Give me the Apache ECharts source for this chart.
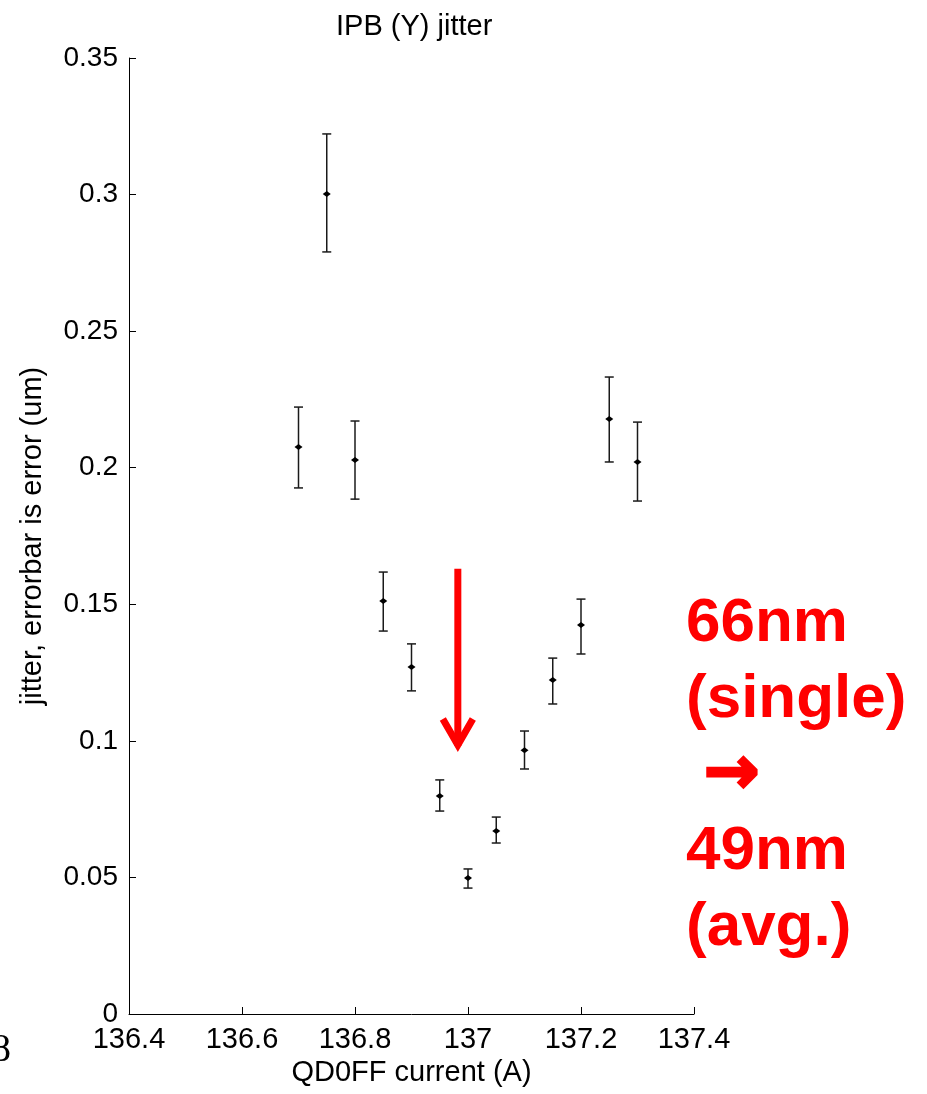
<!DOCTYPE html>
<html>
<head>
<meta charset="utf-8">
<script src="https://cdn.jsdelivr.net/npm/echarts@6/dist/echarts.min.js"></script>
<style>
  html, body { margin: 0; padding: 0; background: #fff; }
  #main { width: 927px; height: 1094px; }
</style>
</head>
<body>
<div id="main"></div>
<script>
    // QD0FF scan, IPB (Y) jitter with error bars
    const currents = [136.7, 136.75, 136.8, 136.85, 136.9, 136.95, 137, 137.05, 137.1, 137.15, 137.2, 137.25, 137.3]
    const jitter   = [0.2076, 0.3002, 0.2028, 0.1512, 0.1270, 0.0798, 0.0498, 0.0670, 0.0966, 0.1223, 0.1424, 0.2178, 0.2021]
    const errLow   = [0.1926, 0.2790, 0.1885, 0.1402, 0.1183, 0.0743, 0.0461, 0.0626, 0.0897, 0.1135, 0.1318, 0.2021, 0.1878]
    const errHigh  = [0.2222, 0.3222, 0.2171, 0.1618, 0.1355, 0.0857, 0.0531, 0.0721, 0.1036, 0.1303, 0.1519, 0.2332, 0.2167]

    // red arrow annotation (data coords)
    const arrowFrom = [136.982, 0.163]
    const arrowTo   = [136.982, 0.097]
    const noteLines = ['66nm', '(single)', '\u2192', '49nm', '(avg.)']

    const FONT = '"Liberation Sans", Arial, sans-serif'

    let chartDom = document.getElementById('main')
    let myChart = echarts.init(chartDom)

    const seriesData = currents.map((c, i) => [c, jitter[i], errLow[i], errHigh[i]])

    function renderErrorBar(params, api) {
        const x = api.value(0)
        const pc = api.coord([x, api.value(1)])
        const pLo = api.coord([x, api.value(2)])
        const pHi = api.coord([x, api.value(3)])
        const cap = 4.5
        const st = { stroke: '#1a1a1a', lineWidth: 1.5 }
        return {
            type: 'group',
            children: [
                { type: 'line', shape: { x1: pLo[0], y1: pLo[1], x2: pHi[0], y2: pHi[1] }, style: st },
                { type: 'line', shape: { x1: pLo[0] - cap, y1: pLo[1], x2: pLo[0] + cap, y2: pLo[1] }, style: st },
                { type: 'line', shape: { x1: pHi[0] - cap, y1: pHi[1], x2: pHi[0] + cap, y2: pHi[1] }, style: st },
                {
                    type: 'polygon',
                    shape: { points: [[pc[0] - 4, pc[1]], [pc[0], pc[1] - 3], [pc[0] + 4, pc[1]], [pc[0], pc[1] + 3]] },
                    style: { fill: '#000' }
                }
            ]
        }
    }

    const option = {
        animation: false,
        title: {
            text: 'IPB (Y) jitter',
            left: 331,
            top: 7,
            textStyle: { fontFamily: FONT, fontSize: 29, fontWeight: 'normal', color: '#000' }
        },
        grid: { left: 129, right: 233, top: 58, bottom: 80 },
        xAxis: {
            type: 'value',
            min: 136.4,
            max: 137.4,
            interval: 0.2,
            name: 'QD0FF current (A)',
            nameLocation: 'middle',
            nameGap: 39,
            nameTextStyle: { fontFamily: FONT, fontSize: 29, color: '#000' },
            axisLine: { lineStyle: { color: '#000', width: 1 } },
            axisTick: { inside: true, length: 7, lineStyle: { color: '#000' } },
            splitLine: { show: false },
            axisLabel: { fontFamily: FONT, fontSize: 29, color: '#000', margin: 11 }
        },
        yAxis: {
            type: 'value',
            min: 0,
            max: 0.35,
            interval: 0.05,
            name: 'jitter, errorbar is error (um)',
            nameLocation: 'middle',
            nameGap: 82,
            nameTextStyle: { fontFamily: FONT, fontSize: 29, color: '#000' },
            axisLine: { show: true, lineStyle: { color: '#000', width: 1 } },
            axisTick: { show: true, inside: true, length: 7, lineStyle: { color: '#000' } },
            splitLine: { show: false },
            axisLabel: { fontFamily: FONT, fontSize: 28, color: '#000', margin: 11 }
        },
        series: [
            {
                type: 'custom',
                renderItem: renderErrorBar,
                data: seriesData,
                z: 5
            }
        ]
    }

    myChart.setOption(option)

    // annotations placed from data coords
    const pFrom = myChart.convertToPixel({ gridIndex: 0 }, arrowFrom)
    const pTo = myChart.convertToPixel({ gridIndex: 0 }, arrowTo)

    const graphics = [
        {
            type: 'line',
            shape: { x1: pFrom[0], y1: pFrom[1], x2: pTo[0], y2: pTo[1] - 3 },
            style: { stroke: '#ff0000', lineWidth: 7 },
            z: 10
        },
        {
            type: 'polyline',
            shape: { points: [[pTo[0] - 15, pTo[1] - 30], [pTo[0], pTo[1] - 4], [pTo[0] + 15, pTo[1] - 30]] },
            style: { stroke: '#ff0000', lineWidth: 7, fill: null, lineJoin: 'miter' },
            z: 10
        },
        {
            type: 'text',
            left: -9,
            top: 1030,
            style: { text: '8', fontFamily: '"Liberation Serif", "Times New Roman", serif', fontSize: 40, fill: '#000' }
        }
    ]
    noteLines.forEach((t, i) => {
        const isArrow = t === '\u2192'
        graphics.push({
            type: 'text',
            x: isArrow ? 704 : 686,
            y: 624 + i * 76,
            style: {
                text: t,
                fontFamily: isArrow ? '"DejaVu Sans", sans-serif' : FONT,
                fontSize: isArrow ? 66 : 62,
                fontWeight: 'bold',
                fill: '#ff0000',
                verticalAlign: 'middle',
                align: 'left',
                stroke: isArrow ? '#ff0000' : null,
                lineWidth: isArrow ? 3 : 0
            },
            z: 10
        })
    })

    myChart.setOption({ graphic: graphics })
</script>
</body>
</html>
